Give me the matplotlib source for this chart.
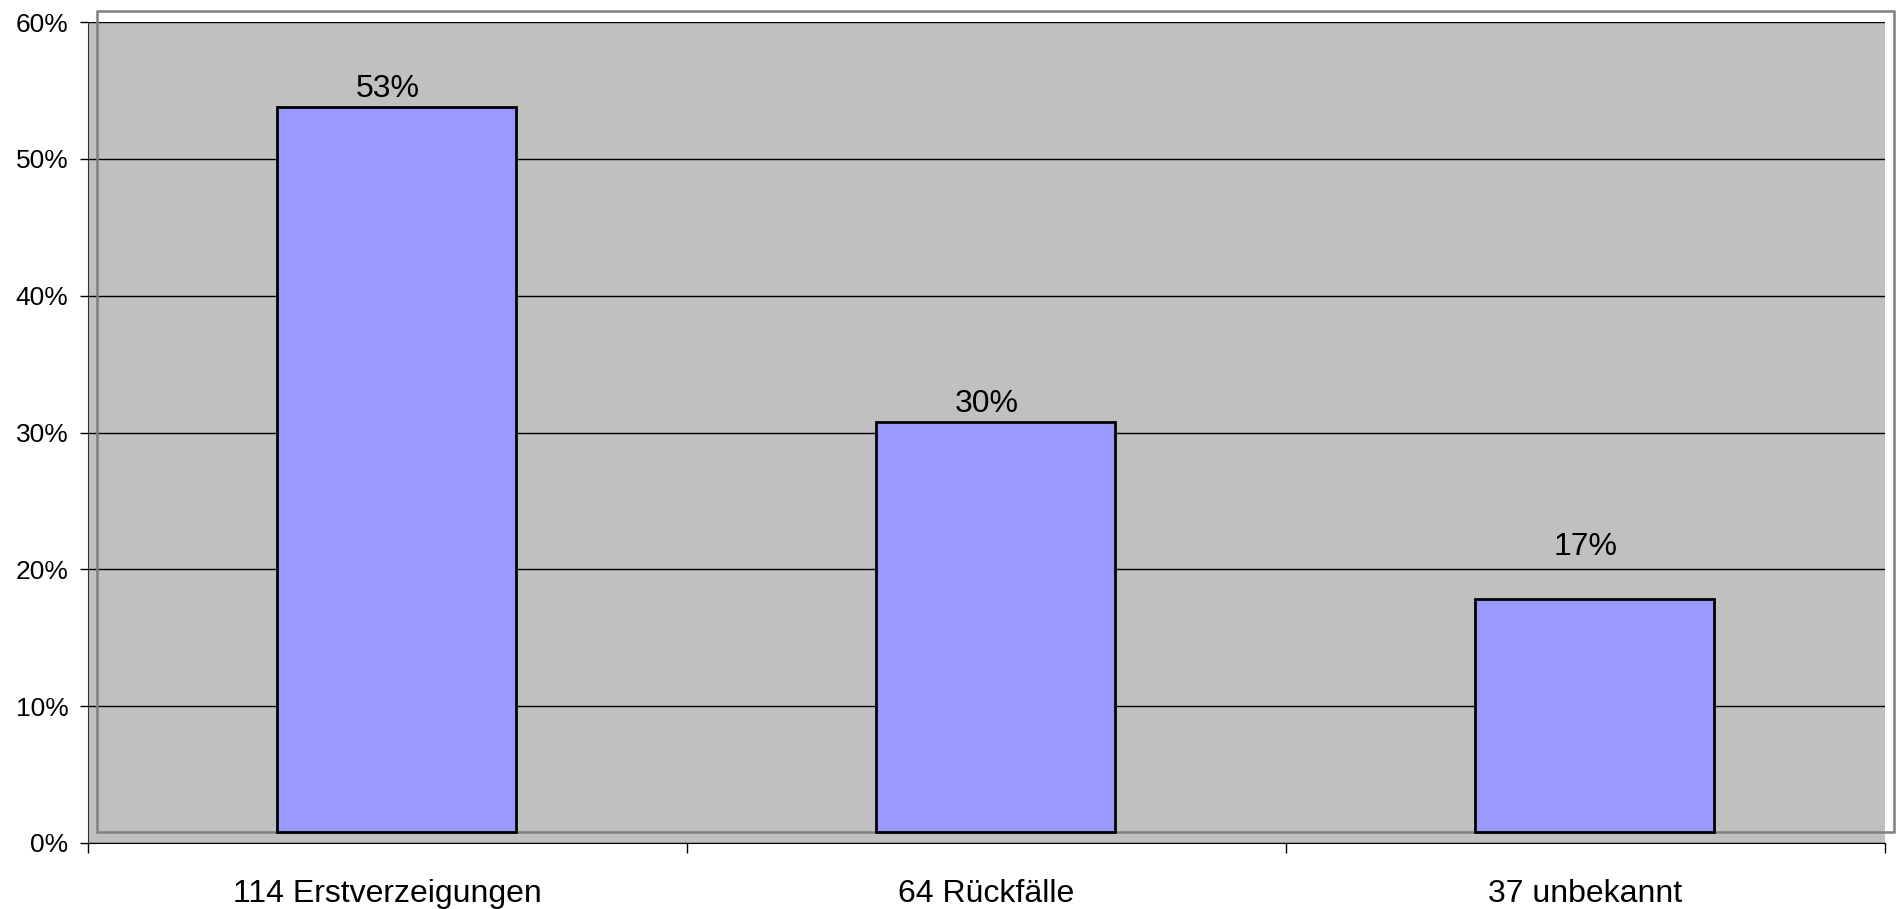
import matplotlib
matplotlib.use("Agg")
import matplotlib.pyplot as plt
import matplotlib.transforms as mtransforms
from matplotlib.patches import Rectangle
from matplotlib.ticker import FixedLocator, PercentFormatter

plt.rcParams['font.family'] = ['Liberation Sans', 'DejaVu Sans']

categories = ['114 Erstverzeigungen', '64 Rückfälle', '37 unbekannt']
shares = [53, 30, 17]
label_pad_px = [10, 10, 44]   # excel put the labels a bit irregularly

fig = plt.figure(figsize=(18.99, 9.09), dpi=100)
ax = fig.add_axes([88 / 1899, 66 / 909, (1885 - 88) / 1899, (843 - 22) / 909])
ax.set_facecolor('#C0C0C0')

# the back wall / bars are shifted up-right like the excel pseudo 3d look
shift = mtransforms.offset_copy(ax.transData, fig=fig, x=9, y=11, units='dots')
shift_ax = mtransforms.offset_copy(ax.transAxes, fig=fig, x=9, y=11, units='dots')

x = range(len(categories))
ax.set_xlim(-0.5, len(categories) - 0.5)
ax.set_ylim(0, 60)

ax.yaxis.grid(True, color='black', lw=1.0)
ax.set_axisbelow(True)

frame = Rectangle((0, 0), 1, 1, transform=shift_ax, fill=False,
                  edgecolor='#808080', lw=1.8, clip_on=False, zorder=1.5)
ax.add_patch(frame)

bars = ax.bar(x, shares, width=0.4, color='#9999FF', edgecolor='black',
              lw=2.0, transform=shift, clip_on=False, zorder=3)

for i, v in enumerate(shares):
    ax.annotate(f'{v}%', (i, v), xytext=(0, (11 + label_pad_px[i]) * 0.72),
                textcoords='offset points', ha='center', va='baseline',
                fontsize=23, zorder=4)

ax.yaxis.set_major_locator(FixedLocator(range(0, 61, 10)))
ax.yaxis.set_major_formatter(PercentFormatter(decimals=0))
ax.tick_params(axis='y', length=6, width=1, pad=8, labelsize=19)

ax.xaxis.set_major_locator(FixedLocator([i - 0.5 for i in range(len(categories) + 1)]))
ax.xaxis.set_minor_locator(FixedLocator(list(x)))
ax.set_xticklabels([], minor=False)
ax.set_xticklabels(categories, minor=True)
ax.tick_params(axis='x', which='major', length=7, width=1, direction='out')
ax.tick_params(axis='x', which='minor', length=0, pad=26, labelsize=23)

for s in ['top', 'right']:
    ax.spines[s].set_visible(False)
ax.spines['left'].set_color('#333333')
ax.spines['bottom'].set_color('black')

fig.savefig('out.png', dpi=100)
